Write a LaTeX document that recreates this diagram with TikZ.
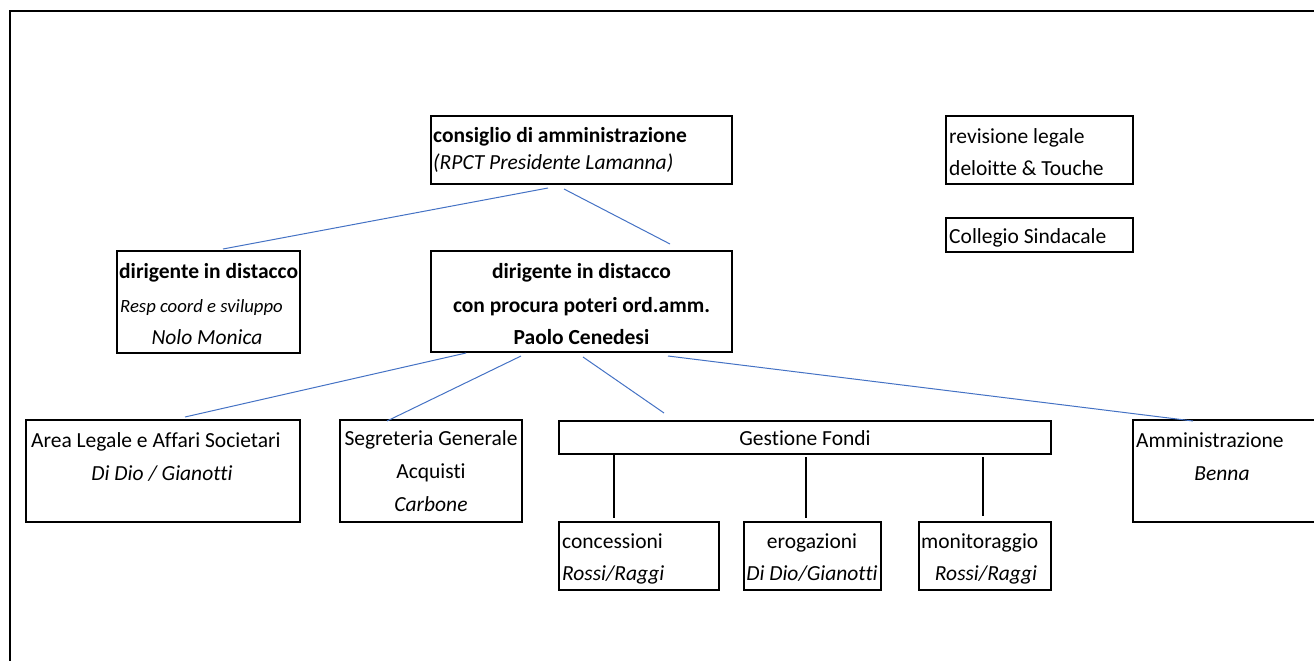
\documentclass[tikz,border=0pt]{standalone}
\usepackage{fontspec}
\setmainfont{Carlito}[Ligatures=NoCommon]
\usetikzlibrary{fit}
\begin{document}
\begin{tikzpicture}[x=1pt,y=-1pt,
  box/.style={draw=black, line width=1.8pt, inner sep=0pt, fill=none},
  txt/.style={inner sep=0pt, font=\fontsize{21.5}{26}\selectfont},
  stxt/.style={inner sep=0pt, font=\fontsize{18.7}{22}\selectfont\itshape},
  link/.style={draw={rgb,255:red,68;green,114;blue,196}, line width=1pt},
  vlink/.style={draw=black, line width=1.3pt}]
\useasboundingbox (0,0) rectangle (1314,661);
\begin{scope}
\clip (0,0) rectangle (1314,661);
% outer frame (top and left visible)
\draw[line width=2pt] (10,661) -- (10,11) -- (1320,11);
% boxes
\node[box, fit={(431,116) (732,184)}] (cda) {};
\node[box, fit={(946,116) (1133,184)}] (rev) {};
\node[box, fit={(946,218) (1133,252)}] (col) {};
\node[box, fit={(117,251) (300,353)}] (dl) {};
\node[box, fit={(431,251) (732,352)}] (dc) {};
\node[box, fit={(26,420) (300,522)}] (area) {};
\node[box, fit={(340,420) (522,522)}] (seg) {};
\node[box, fit={(559,421) (1051,454)}] (gest) {};
\node[box, fit={(559,522) (719,590)}] (conc) {};
\node[box, fit={(744,522) (881,590)}] (erog) {};
\node[box, fit={(919,522) (1051,590)}] (mon) {};
\node[box, fit={(1133,420) (1330,522)}] (amm) {};
% texts
\node[txt, anchor=base west] (cdaA) at (433,142) {\bfseries consiglio di amministrazione};
\node[txt, anchor=base west] (cdaB) at (433,169) {\itshape (RPCT Presidente Lamanna)};
\node[txt, anchor=base west] (revA) at (949,143) {revisione legale};
\node[txt, anchor=base west] (revB) at (949,175) {deloitte \& Touche};
\node[txt, anchor=base west] (colA) at (949,243) {Collegio Sindacale};
\node[txt, anchor=base west] (dlA) at (119,278) {\bfseries dirigente in distacco};
\node[stxt, anchor=base west] (dlB) at (120,312) {Resp coord e sviluppo};
\node[txt, anchor=base] (dlC) at (207,344) {\itshape Nolo Monica};
\node[txt, anchor=base] (dcA) at (581.5,278) {\bfseries dirigente in distacco};
\node[txt, anchor=base] (dcB) at (581.5,312) {\bfseries con procura poteri ord.amm.};
\node[txt, anchor=base] (dcC) at (581.5,344) {\bfseries Paolo Cenedesi};
\node[txt, anchor=base west] (areaA) at (31,447) {Area Legale e Affari Societari};
\node[txt, anchor=base] (areaB) at (162,480) {\itshape Di Dio / Gianotti};
\node[txt, anchor=base] (segA) at (431,445) {Segreteria Generale};
\node[txt, anchor=base] (segB) at (431,478) {Acquisti};
\node[txt, anchor=base] (segC) at (431,511) {\itshape Carbone};
\node[txt, anchor=base] (gestA) at (805,445) {Gestione Fondi};
\node[txt, anchor=base west] (concA) at (562,548) {concessioni};
\node[txt, anchor=base west] (concB) at (562,580) {\itshape Rossi/Raggi};
\node[txt, anchor=base] (erogA) at (812,548) {erogazioni};
\node[txt, anchor=base] (erogB) at (812,580) {\itshape Di Dio/Gianotti};
\node[txt, anchor=base west] (monA) at (921,548) {monitoraggio};
\node[txt, anchor=base] (monB) at (986,580) {\itshape Rossi/Raggi};
\node[txt, anchor=base west] (ammA) at (1136,447) {Amministrazione};
\node[txt, anchor=base] (ammB) at (1222,480) {\itshape Benna};
% connector end points
\coordinate (p1) at (548,188);  \coordinate (q1) at (223,249);
\coordinate (p2) at (564,189);  \coordinate (q2) at (670,244);
\coordinate (p3) at (466,353);  \coordinate (q3) at (185,417);
\coordinate (p4) at (521,356);  \coordinate (q4) at (387,421);
\coordinate (p5) at (583,357);  \coordinate (q5) at (664,413);
\coordinate (p6) at (668,356);  \coordinate (q6) at (1193,421);
\coordinate (p7) at (614,455);  \coordinate (q7) at (614,518);
\coordinate (p8) at (806,457);  \coordinate (q8) at (806,518);
\coordinate (p9) at (983,457);  \coordinate (q9) at (983,516);
% connectors
\draw[link] (p1) -- (q1);
\draw[link] (p2) -- (q2);
\draw[link] (p3) -- (q3);
\draw[link] (p4) -- (q4);
\draw[link] (p5) -- (q5);
\draw[link] (p6) -- (q6);
\draw[vlink] (p7) -- (q7);
\draw[vlink] (p8) -- (q8);
\draw[vlink] (p9) -- (q9);
\end{scope}
\end{tikzpicture}
\end{document}
